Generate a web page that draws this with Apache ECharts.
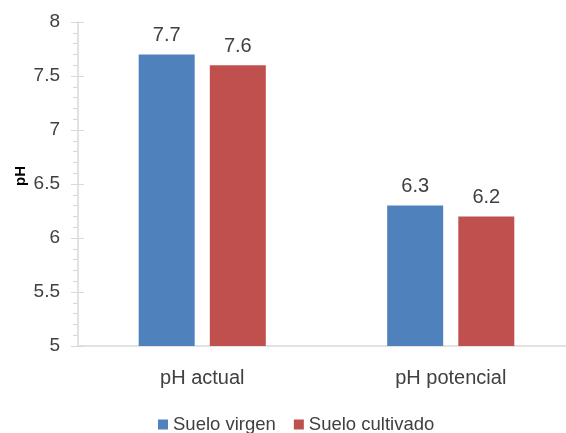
<!DOCTYPE html>
<html><head><meta charset="utf-8">
<script src="https://cdn.jsdelivr.net/npm/echarts@6/dist/echarts.min.js"></script>
<style>html,body{margin:0;padding:0;background:#fff}#c{width:566px;height:433px}</style>
</head><body><div id="c"></div>
<script>
const categories = ['pH actual', 'pH potencial'];
const sueloVirgen = [7.7, 6.3];
const sueloCultivado = [7.6, 6.2];
const yTicks = ['5', '5.5', '6', '6.5', '7', '7.5', '8'];
const yName = 'pH';

const chart = echarts.init(document.getElementById('c'));
const font = 'Liberation Sans, Arial, sans-serif';
const txt = '#404040';
const labelStyle = { show: true, position: 'top', distance: 9, color: txt, fontSize: 20, fontFamily: font };
const axisGray = '#D9D9D9';
chart.setOption({
  animation: false,
  textStyle: { fontFamily: font },
  legend: {
    top: 410, left: 153, itemWidth: 10, itemHeight: 10, itemGap: 18,
    icon: 'rect',
    textStyle: { color: txt, fontSize: 18.5, fontFamily: font, padding: [0, 0, 0, 0] }
  },
  graphic: [{
    type: 'text', x: 21, y: 176, rotation: Math.PI / 2,
    style: { text: yName, font: 'bold 15px "Liberation Sans", Arial, sans-serif', fill: '#000',
      align: 'center', verticalAlign: 'middle' }
  }],
  grid: { left: 78, top: 22, width: 497, height: 324, containLabel: false, outerBoundsMode: 'none' },
  xAxis: {
    type: 'category', data: categories,
    axisLine: { lineStyle: { color: axisGray, width: 1.5 } },
    axisTick: { show: false },
    axisLabel: { color: txt, fontSize: 20, margin: 22, fontFamily: font }
  },
  yAxis: [{
    type: 'value', min: 5, max: 8, interval: 0.5,
    axisLine: { show: true, lineStyle: { color: axisGray, width: 1.5 } },
    axisTick: { show: true, length: 7, lineStyle: { color: axisGray } },
    minorTick: { show: true, splitNumber: 5, length: 5, lineStyle: { color: axisGray } },
    splitLine: { show: false },
    axisLabel: { color: txt, fontSize: 19, margin: 18, fontFamily: font,
      formatter: v => yTicks[Math.round((v - 5) / 0.5)] }
  }, {
    type: 'value', min: 5, max: 8, interval: 0.5, position: 'left',
    axisLine: { show: false },
    axisTick: { show: true, inside: true, length: 6, lineStyle: { color: axisGray } },
    axisLabel: { show: false }, splitLine: { show: false }
  }],
  series: [
    { name: 'Suelo virgen', type: 'bar', data: sueloVirgen, barWidth: 56, barGap: '27%',
      itemStyle: { color: '#4F81BD' }, label: labelStyle },
    { name: 'Suelo cultivado', type: 'bar', data: sueloCultivado, barWidth: 56,
      itemStyle: { color: '#C0504D' }, label: labelStyle }
  ]
});
</script></body></html>
